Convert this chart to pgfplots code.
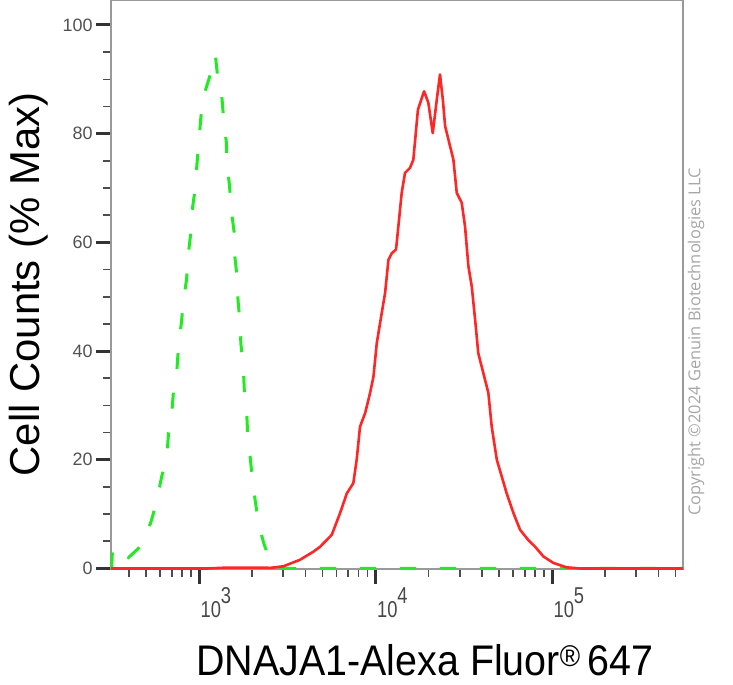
\documentclass[border=0pt]{standalone}
\usepackage{fontspec}
\setmainfont{Liberation Sans}
\newfontfamily\xtickfont[FakeStretch=0.80]{Liberation Sans}
\newfontfamily\labelfont[FakeStretch=0.92]{Liberation Sans}
\newfontfamily\copyfont{Open Sans}
\usepackage{pgfplots}
\pgfplotsset{compat=1.18}
\definecolor{fcred}{RGB}{255,38,38}
\definecolor{fcgreen}{RGB}{35,235,35}

\begin{document}
\begin{tikzpicture}
\begin{axis}[
  scale only axis, width=572bp, height=569bp,
  xmode=log, xmin=317, xmax=552000,
  ymin=-0.1, ymax=104.6,
  clip=false,
  axis line style={black!40, line width=1.5bp},
  tick align=outside, xtick pos=bottom, ytick pos=left,
  xtick={1000,10000,100000},
  xticklabels={{10\raisebox{14bp}{3}},{10\raisebox{14bp}{4}},{10\raisebox{14bp}{5}}},
  minor xtick={400,500,600,700,800,900,2000,3000,4000,5000,6000,7000,8000,9000,
    20000,30000,40000,50000,60000,70000,80000,90000,200000,300000,400000,500000},
  ytick={0,20,40,60,80,100}, minor y tick num=3,
  major tick length=15bp, minor tick length=8bp,
  every major tick/.append style={line width=3bp, black!80},
  every minor tick/.append style={line width=1.6bp, black!70},
  /pgf/number format/assume math mode=true,
  x tick label style={font=\fontsize{23}{23}\xtickfont, text=black!72, anchor=north west, xshift=-2bp},
  y tick label style={font=\fontsize{18}{18}\selectfont, text=black!68},
  xlabel={DNAJA1-Alexa Fluor\textsuperscript{®}\,647},
  xlabel style={font=\fontsize{43}{43}\labelfont, at={([yshift=-106bp]axis description cs:0.549,0)}, anchor=base},
  ylabel={Cell Counts (\% Max)},
  ylabel style={font=\fontsize{42}{42}\selectfont, at={([xshift=-72bp]axis description cs:0,0.5)}, anchor=base},
]
% isotype control (green dashed)
\addplot[color=fcgreen, line width=3bp, dash pattern=on 16bp off 24bp] coordinates {
  (320,0) (323.6,4) (398,2.0) (482,4.5) (538,8.9) (575,12.4) (614,16.9) (656,20.3)
  (671,24.8) (701,28.6) (718,33.1) (750,36.9) (767,41.3) (794,45.2) (818,49.6)
  (849,53.1) (867,57.6) (895,61.4) (916,66.1) (948,69.6) (971,74.1) (1005,80.0)
  (1045,86.2) (1143,90.3) (1236,94.5) (1276,90.3) (1346,86.8) (1380,82.4)
  (1426,78.5) (1445,74.1) (1489,70.3) (1524,65.8) (1578,62.0) (1592,57.6)
  (1641,53.7) (1663,49.3) (1702,45.5) (1726,41.3) (1778,37.5) (1803,33.1)
  (1858,29.3) (1884,24.8) (1941,21.0) (2004,16.5) (2075,12.7) (2173,8.3)
  (2317,4.8) (2512,1.5) (2818,0) (552000,0)
};
% DNAJA1 stained (red)
\addplot[color=fcred, line width=2.6bp, line join=round] coordinates {
  (317,0) (1122,0) (1413,0.15) (2399,0.15) (2523,0.1) (3006,0.4) (3733,1.6)
  (4446,3.1) (4853,4.0) (5649,6.2) (6295,10.2) (6871,13.8) (7482,15.7)
  (7816,20.0) (8166,26.1) (8730,28.6) (9311,32.3) (9727,35.3) (10162,41.5)
  (10839,47.0) (11324,50.7) (11830,56.8) (12359,58.0) (13062,58.7) (13459,62.9)
  (14060,69.1) (14689,72.8) (15668,73.7) (16368,75.2) (17378,84.4) (18836,87.8)
  (19907,85.7) (21086,80.1) (22233,86.3) (23174,90.9) (24044,86.3) (24774,81.4)
  (26424,77.7) (27606,75.2) (28840,69.1) (30761,67.3) (32137,62.9) (33574,55.6)
  (35075,51.9) (36644,45.8) (38194,39.6) (40832,35.9) (43551,32.3) (45499,26.1)
  (48641,20.0) (51880,16.9) (55335,13.8) (60395,10.2) (65917,7.1) (73451,5.2)
  (80168,4.0) (89331,2.2) (101859,1.0) (121061,0.2) (144212,0) (552000,0)
};
\node[rotate=90, text=black!35, font=\fontsize{16.5}{16.5}\copyfont]
  at ([xshift=13bp]axis description cs:1,0.399) {Copyright ©2024 Genuin Biotechnologies LLC};
\coordinate (O) at (rel axis cs:0,0);
\end{axis}
\pgfresetboundingbox
\path ([xshift=-111bp,yshift=-116bp]O) rectangle ++(733bp,685bp);
\end{tikzpicture}
\end{document}
